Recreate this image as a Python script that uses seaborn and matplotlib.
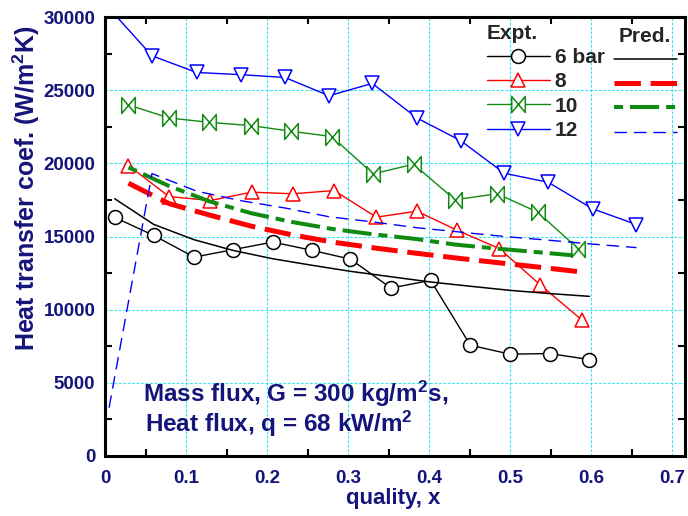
import numpy as np
import pandas as pd
import matplotlib
matplotlib.use("Agg")
import matplotlib.pyplot as plt
from matplotlib.path import Path
from matplotlib.ticker import FixedLocator, FixedFormatter
import seaborn as sns

# ---------------- data ----------------
x6 = [0.012, 0.060, 0.110, 0.158, 0.207, 0.256, 0.303, 0.353, 0.402, 0.451, 0.500, 0.549, 0.598]
h6 = [16300, 15080, 13590, 14100, 14620, 14050, 13450, 11480, 12000, 7570, 6960, 7000, 6590]
p6 = [17580, 15830, 14780, 14050, 13480, 13030, 12620, 12250, 11890, 11600, 11320, 11100, 10910]

x8 = [0.029, 0.079, 0.130, 0.181, 0.232, 0.283, 0.335, 0.385, 0.435, 0.487, 0.537, 0.589]
h8 = [19850, 17730, 17460, 18030, 17920, 18140, 16320, 16730, 15420, 14170, 11710, 9280]
p8 = [18640, 17250, 16450, 15700, 15100, 14600, 14200, 13850, 13520, 13200, 12900, 12570]

x10 = [0.029, 0.079, 0.129, 0.180, 0.230, 0.280, 0.331, 0.381, 0.432, 0.484, 0.534, 0.584]
h10 = [23990, 23100, 22800, 22580, 22190, 21830, 19280, 19940, 17510, 17920, 16670, 14170]
xp10 = [0.029, 0.079, 0.129, 0.180, 0.230, 0.280, 0.331, 0.381, 0.432, 0.484, 0.534, 0.578]
p10 = [19730, 18450, 17400, 16600, 16000, 15520, 15150, 14850, 14450, 14170, 13930, 13710]

x12 = [0.005, 0.058, 0.113, 0.1675, 0.222, 0.2765, 0.330, 0.385, 0.439, 0.493, 0.547, 0.602, 0.656]
h12 = [30600, 27350, 26210, 26060, 25870, 24620, 25460, 23100, 21550, 19320, 18710, 16890, 15820]
p12 = [3300, 19300, 18100, 17450, 16950, 16350, 16000, 15600, 15300, 15000, 14750, 14480, 14240]

labels = ["6 bar", "8", "10", "12"]
xticks = [0, 0.1, 0.2, 0.3, 0.4, 0.5, 0.6, 0.7]
xticklabels = ["0", "0.1", "0.2", "0.3", "0.4", "0.5", "0.6", "0.7"]
yticks = [0, 5000, 10000, 15000, 20000, 25000, 30000]
yticklabels = ["0", "5000", "10000", "15000", "20000", "25000", "30000"]

# ---------------- style ----------------
sns.set_theme(style="white")
plt.rcParams["font.family"] = ["Liberation Sans", "DejaVu Sans"]
plt.rcParams["font.weight"] = "bold"
plt.rcParams["mathtext.fontset"] = "custom"
plt.rcParams["mathtext.rm"] = "Liberation Sans:bold"
plt.rcParams["mathtext.bf"] = "Liberation Sans:bold"
plt.rcParams["mathtext.it"] = "Liberation Sans:bold"
plt.rcParams["mathtext.sf"] = "Liberation Sans:bold"
plt.rcParams["mathtext.default"] = "bf"
plt.rcParams["lines.scale_dashes"] = False

NAVY = "#14147a"
RED = "#ff0000"
GREEN = "#118a11"
BLUE = "#0000ff"

bowtie = Path(
    [(-0.85, 1), (0, 0), (-0.85, -1), (-0.85, 1), (0.85, 1), (0, 0), (0.85, -1), (0.85, 1)],
    [Path.MOVETO, Path.LINETO, Path.LINETO, Path.CLOSEPOLY,
     Path.MOVETO, Path.LINETO, Path.LINETO, Path.CLOSEPOLY],
)

fig = plt.figure(figsize=(6.88, 5.16), dpi=100)
ax = fig.add_axes([105 / 688, 1 - 456 / 516, 580 / 688, 439 / 516])

expt_handles = []
pred_handles = []

def line(x, y, **kw):
    n0 = len(ax.lines)
    sns.lineplot(x=x, y=y, ax=ax, sort=False, estimator=None, **kw)
    return ax.lines[n0]

# experimental
expt_handles.append(line(x6, h6, color="black", lw=1.0, marker="o", markersize=10,
                         markerfacecolor="white", markeredgecolor="black", markeredgewidth=1.1))
expt_handles.append(line(x8, h8, color=RED, lw=1.0, marker="^", markersize=10.5,
                         markerfacecolor="white", markeredgecolor=RED, markeredgewidth=1.1))
expt_handles.append(line(x10, h10, color=GREEN, lw=1.0, marker=bowtie, markersize=11.5,
                         markerfacecolor="white", markeredgecolor=GREEN, markeredgewidth=1.1))
expt_handles.append(line(x12, h12, color=BLUE, lw=1.0, marker="v", markersize=10.5,
                         markerfacecolor="white", markeredgecolor=BLUE, markeredgewidth=1.1))

# predictions
pred_handles.append(line(x6, p6, color="black", lw=1.1, linestyle="-"))
pred_handles.append(line(x8, p8, color=RED, lw=3.6, linestyle=(0, (19, 7))))
pred_handles.append(line(xp10, p10, color=GREEN, lw=2.9, linestyle=(0, (6.5, 5, 21, 5))))
pred_handles.append(line(x12, p12, color=BLUE, lw=1.0, linestyle=(0, (9, 5))))

ax.set_xlim(0, 0.716)
ax.set_ylim(0, 30000)

ax.xaxis.set_major_locator(FixedLocator(xticks))
ax.xaxis.set_major_formatter(FixedFormatter(xticklabels))
ax.yaxis.set_major_locator(FixedLocator(yticks))
ax.yaxis.set_major_formatter(FixedFormatter(yticklabels))
ax.xaxis.set_minor_locator(FixedLocator([0.05, 0.15, 0.25, 0.35, 0.45, 0.55, 0.65]))
ax.yaxis.set_minor_locator(FixedLocator([2500, 7500, 12500, 17500, 22500, 27500]))

ax.grid(True, which="major", color="#33e6f0", lw=0.8, linestyle=(0, (2, 1.2)))
ax.set_axisbelow(True)
for s in ax.spines.values():
    s.set_color("black")
    s.set_linewidth(2.2)
    s.set_visible(True)

ax.tick_params(which="major", length=0, labelsize=13.5, labelcolor=NAVY)
ax.tick_params(axis="x", which="major", pad=10)
ax.tick_params(axis="y", which="major", pad=7)
ax.tick_params(which="minor", direction="in", length=5, width=1.5, color="black",
               top=True, right=True, bottom=True, left=True)
for lab in ax.get_xticklabels() + ax.get_yticklabels():
    lab.set_fontweight("bold")

ax.set_xlabel("quality, x", fontsize=16, fontweight="bold", color=NAVY)
ax.set_ylabel("Heat transfer coef. (W/m$^2$K)", fontsize=18, fontweight="bold", color=NAVY)
ax.xaxis.set_label_coords(0.497, -0.072)
ax.yaxis.set_label_coords(-0.108, 0.61)

ax.text(0.0655, 0.123, "Mass flux, G = 300 kg/m$^2$s,", transform=ax.transAxes,
        fontsize=17.5, fontweight="bold", color=NAVY, ha="left", va="baseline")
ax.text(0.069, 0.0547, "Heat flux, q = 68 kW/m$^2$", transform=ax.transAxes,
        fontsize=17.5, fontweight="bold", color=NAVY, ha="left", va="baseline")

leg1 = ax.legend(expt_handles, labels, title="Expt.", loc="upper left",
                 bbox_to_anchor=(487 / 688, 1 - 24 / 516), bbox_transform=fig.transFigure,
                 frameon=False, fontsize=15, title_fontsize=15, handlelength=3.0,
                 handletextpad=0.25, labelspacing=0.25, borderpad=0, borderaxespad=0,
                 alignment="left")
leg1.get_title().set_fontweight("bold")
for t in leg1.get_texts():
    t.set_fontweight("bold")
ax.add_artist(leg1)

leg2 = ax.legend(pred_handles, ["", "", "", ""], title="Pred.", loc="upper left",
                 bbox_to_anchor=(614 / 688, 1 - 27 / 516), bbox_transform=fig.transFigure,
                 frameon=False, fontsize=15, title_fontsize=15, handlelength=3.0,
                 handletextpad=0.0, labelspacing=0.25, borderpad=0, borderaxespad=0,
                 alignment="center")
leg2.get_title().set_fontweight("bold")

fig.savefig("out.png", dpi=100)
